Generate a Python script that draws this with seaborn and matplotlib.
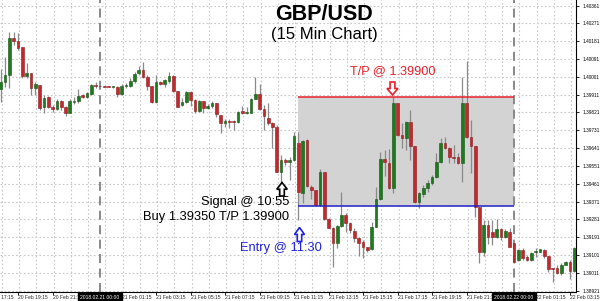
import numpy as np
import pandas as pd
import matplotlib
matplotlib.use("Agg")
import matplotlib.pyplot as plt
import matplotlib.transforms as mtransforms
from matplotlib.patches import Rectangle, Polygon
import seaborn as sns

# ---------------- data (GBP/USD 15 min candles) ----------------
start_time = "2018-02-20 18:15"
opens = [1.39940, 1.39976, 1.40011, 1.40199, 1.40183, 1.40153, 1.40006, 1.40022, 1.39946, 1.39960,
         1.39847, 1.39898, 1.39850, 1.39839, 1.39879, 1.39847, 1.39820, 1.39876, 1.39879, 1.39910,
         1.39901, 1.39915, 1.39960, 1.39956, 1.39953, 1.39952, 1.39950, 1.39951, 1.39915, 1.39956,
         1.39956, 1.39980, 1.40019, 1.40036, 1.39999, 1.39956, 1.39875, 1.39973, 1.39963, 1.39980,
         1.40007, 1.39931, 1.39859, 1.39875, 1.39926, 1.39884, 1.39829, 1.39879, 1.39845, 1.39854,
         1.39870, 1.39808, 1.39766, 1.39779, 1.39778, 1.39774, 1.39829, 1.39820, 1.39820, 1.39891,
         1.39916, 1.39840, 1.39792, 1.39766, 1.39746, 1.39522, 1.39581, 1.39569, 1.39581, 1.39668,
         1.39416, 1.39682, 1.39446, 1.39430, 1.39354, 1.39519, 1.39282, 1.39239, 1.39163, 1.39249,
         1.39303, 1.39261, 1.39224, 1.39189, 1.39167, 1.39140, 1.39130, 1.39244, 1.39384, 1.39585,
         1.39567, 1.39438, 1.39867, 1.39707, 1.39691, 1.39774, 1.39652, 1.39370, 1.39409, 1.39438,
         1.39463, 1.39494, 1.39573, 1.39665, 1.39640, 1.39598, 1.39598, 1.39564, 1.39867, 1.39699,
         1.39652, 1.39345, 1.39116, 1.39253, 1.39217, 1.39191, 1.39231, 1.39191, 1.39219, 1.39160,
         1.39076, 1.39127, 1.39093, 1.39076, 1.39115, 1.39118, 1.39127, 1.39097, 1.39034, 1.39034,
         1.39009, 1.39051, 1.39067, 1.39022]
highs = [1.40039, 1.40103, 1.40229, 1.40229, 1.40221, 1.40153, 1.40069, 1.40022, 1.39976, 1.39960,
         1.39910, 1.39905, 1.39859, 1.39888, 1.39884, 1.39854, 1.39888, 1.39898, 1.39938, 1.39915,
         1.39926, 1.39963, 1.39976, 1.39958, 1.39956, 1.39955, 1.39955, 1.39955, 1.39963, 1.39968,
         1.39994, 1.40024, 1.40057, 1.40077, 1.40011, 1.39956, 1.40011, 1.39980, 1.39990, 1.40024,
         1.40011, 1.39931, 1.39893, 1.39930, 1.39930, 1.39888, 1.39884, 1.39879, 1.39862, 1.39879,
         1.39870, 1.39808, 1.39787, 1.39787, 1.39783, 1.39830, 1.39854, 1.39850, 1.39896, 1.39999,
         1.39965, 1.39859, 1.39867, 1.39774, 1.39758, 1.39606, 1.39591, 1.39595, 1.39724, 1.39724,
         1.39682, 1.39686, 1.39455, 1.39430, 1.39534, 1.39519, 1.39287, 1.39244, 1.39253, 1.39421,
         1.39312, 1.39269, 1.39236, 1.39194, 1.39177, 1.39143, 1.39269, 1.39443, 1.39623, 1.39632,
         1.39635, 1.39900, 1.39870, 1.39766, 1.39779, 1.39834, 1.39652, 1.39421, 1.39455, 1.39480,
         1.39505, 1.39615, 1.39691, 1.39696, 1.39648, 1.39657, 1.39615, 1.40002, 1.40081, 1.39783,
         1.39652, 1.39345, 1.39278, 1.39278, 1.39278, 1.39282, 1.39236, 1.39231, 1.39236, 1.39163,
         1.39130, 1.39135, 1.39102, 1.39116, 1.39135, 1.39132, 1.39130, 1.39097, 1.39034, 1.39051,
         1.39059, 1.39070, 1.39076, 1.39143]
lows = [1.39875, 1.39951, 1.39944, 1.40162, 1.40137, 1.39994, 1.39994, 1.39910, 1.39910, 1.39834,
        1.39817, 1.39842, 1.39825, 1.39834, 1.39834, 1.39805, 1.39817, 1.39864, 1.39870, 1.39893,
        1.39896, 1.39910, 1.39944, 1.39950, 1.39950, 1.39948, 1.39947, 1.39901, 1.39910, 1.39944,
        1.39951, 1.39971, 1.40011, 1.39994, 1.39935, 1.39867, 1.39867, 1.39960, 1.39951, 1.39971,
        1.39926, 1.39848, 1.39854, 1.39867, 1.39854, 1.39820, 1.39823, 1.39820, 1.39837, 1.39842,
        1.39797, 1.39716, 1.39746, 1.39741, 1.39733, 1.39766, 1.39813, 1.39813, 1.39817, 1.39889,
        1.39834, 1.39733, 1.39758, 1.39640, 1.39520, 1.39463, 1.39556, 1.39480, 1.39578, 1.39278,
        1.39362, 1.39446, 1.39383, 1.39349, 1.39349, 1.39278, 1.39236, 1.39042, 1.39135, 1.39244,
        1.39219, 1.39211, 1.39168, 1.39097, 1.39085, 1.39118, 1.39127, 1.39240, 1.39379, 1.39500,
        1.39433, 1.39413, 1.39702, 1.39640, 1.39632, 1.39581, 1.39365, 1.39337, 1.39396, 1.39421,
        1.39455, 1.39489, 1.39564, 1.39635, 1.39564, 1.39564, 1.39561, 1.39471, 1.39692, 1.39514,
        1.39295, 1.39059, 1.39097, 1.39157, 1.39152, 1.39186, 1.39177, 1.39186, 1.39140, 1.39059,
        1.39073, 1.39076, 1.39071, 1.39071, 1.39093, 1.39116, 1.39085, 1.39017, 1.38966, 1.39006,
        1.39001, 1.39048, 1.38978, 1.39017]
closes = [1.39976, 1.40011, 1.40196, 1.40183, 1.40148, 1.40006, 1.40022, 1.39944, 1.39963, 1.39845,
          1.39896, 1.39850, 1.39840, 1.39879, 1.39847, 1.39820, 1.39879, 1.39879, 1.39905, 1.39898,
          1.39921, 1.39960, 1.39956, 1.39953, 1.39952, 1.39950, 1.39951, 1.39913, 1.39956, 1.39958,
          1.39980, 1.40016, 1.40036, 1.39999, 1.39956, 1.39875, 1.39973, 1.39965, 1.39985, 1.40007,
          1.39931, 1.39850, 1.39875, 1.39926, 1.39884, 1.39829, 1.39879, 1.39845, 1.39854, 1.39870,
          1.39813, 1.39766, 1.39779, 1.39771, 1.39771, 1.39825, 1.39820, 1.39825, 1.39891, 1.39916,
          1.39840, 1.39803, 1.39766, 1.39746, 1.39522, 1.39581, 1.39569, 1.39581, 1.39702, 1.39421,
          1.39677, 1.39450, 1.39430, 1.39354, 1.39519, 1.39282, 1.39239, 1.39160, 1.39249, 1.39303,
          1.39261, 1.39228, 1.39189, 1.39163, 1.39140, 1.39127, 1.39244, 1.39384, 1.39586, 1.39573,
          1.39438, 1.39867, 1.39707, 1.39691, 1.39774, 1.39653, 1.39370, 1.39413, 1.39438, 1.39463,
          1.39494, 1.39573, 1.39665, 1.39640, 1.39595, 1.39590, 1.39564, 1.39867, 1.39699, 1.39652,
          1.39345, 1.39118, 1.39253, 1.39191, 1.39192, 1.39231, 1.39191, 1.39224, 1.39143, 1.39067,
          1.39127, 1.39085, 1.39076, 1.39110, 1.39123, 1.39130, 1.39097, 1.39029, 1.39029, 1.39009,
          1.39051, 1.39067, 1.39022, 1.39135]

price_ticks = [1.38921, 1.39011, 1.39101, 1.39191, 1.39281, 1.39371, 1.39461, 1.39551, 1.39641,
               1.39731, 1.39821, 1.39911, 1.40001, 1.40091, 1.40181, 1.40271, 1.40361]
time_label_times = ["2018-02-20 17:15", "2018-02-20 19:15", "2018-02-20 21:15", "2018-02-20 23:15",
                    "2018-02-21 01:15", "2018-02-21 03:15", "2018-02-21 05:15", "2018-02-21 07:15",
                    "2018-02-21 09:15", "2018-02-21 11:15", "2018-02-21 13:15", "2018-02-21 15:15",
                    "2018-02-21 17:15", "2018-02-21 19:15", "2018-02-21 21:15", "2018-02-21 23:15",
                    "2018-02-22 01:15", "2018-02-22 03:15"]
time_labels = ["20 Feb 17:15", "20 Feb 19:15", "20 Feb 21:15", "20 Feb 23:15",
               "21 Feb 01:15", "21 Feb 03:15", "21 Feb 05:15", "21 Feb 07:15",
               "21 Feb 09:15", "21 Feb 11:15", "21 Feb 13:15", "21 Feb 15:15",
               "21 Feb 17:15", "21 Feb 19:15", "21 Feb 21:15", "21 Feb 23:15",
               "22 Feb 01:15", "22 Feb 03:15"]
day_times = ["2018-02-21 00:00", "2018-02-22 00:00"]
day_labels = ["2018.02.21 00:00", "2018.02.22 00:00"]
entry_time = "2018-02-21 11:30"
entry_price = 1.39350
tp_price = 1.39900

# ---------------- build frame ----------------
times = pd.date_range(start_time, periods=len(opens), freq="15min")
df = pd.DataFrame({"time": times, "open": opens, "high": highs, "low": lows, "close": closes})
df["pos"] = np.arange(len(df))
t0 = times[0]
def tpos(t):
    return (pd.Timestamp(t) - t0) / pd.Timedelta("15min")

sns.set_theme(style="white")
plt.rcParams["font.family"] = ["Liberation Sans", "DejaVu Sans"]
SMALL = ["Liberation Sans Narrow", "Liberation Sans", "DejaVu Sans"]

fig = plt.figure(figsize=(6.0, 3.01), dpi=100)
W, H = 600, 301
AXW, AXH = 576, 292
ax = fig.add_axes([0, 9 / H, AXW / W, AXH / H])
ax.set_facecolor("white")

xmin, xmax = -0.19, len(df) - 0.62
ymin, ymax = 1.38914, 1.40389

grid_kw = dict(color="#c8c8c8", lw=0.8, linestyle=(0, (1.5, 2)), zorder=0)
for p in price_ticks:
    ax.axhline(p, **grid_kw)
for k in range(0, len(df) + 1, 4):
    ax.axvline(k + 0.25, **grid_kw)

# trade box
e = tpos(entry_time)
d2 = tpos(day_times[1])
ax.add_patch(Rectangle((e, entry_price), d2 - e, tp_price - entry_price,
                       facecolor="#d3d3d3", edgecolor="none", zorder=1))
ax.hlines(tp_price, e, d2, color="#e8202a", lw=1.1, zorder=4)
ax.hlines(entry_price, e, d2, color="#2020c8", lw=1.1, zorder=4)

# day separators
for dt in day_times:
    ax.axvline(tpos(dt), color="#808080", lw=1.3, linestyle=(0, (5, 3)), zorder=2)

# candles
up = df["close"] >= df["open"]
ax.vlines(df["pos"], df["low"], df["high"], color="#8a8a8a", lw=0.9, zorder=3)
body_bottom = np.minimum(df["open"], df["close"])
body_h = np.maximum(np.abs(df["close"] - df["open"]), 0.000025)
colors = np.where(up, "#1d7a1d", "#c3282c")
edges = np.where(up, "#145414", "#8e1a1d")
ax.bar(df["pos"], body_h, bottom=body_bottom, width=0.62, color=colors,
       edgecolor=edges, linewidth=0.4, zorder=3)

# right price axis
ax.yaxis.tick_right()
ax.set_yticks(price_ticks)
ax.set_yticklabels([f"{p:.5f}" for p in price_ticks], fontdict=dict(family=SMALL, size=3.4))
ax.tick_params(axis="y", which="both", right=True, length=2, width=0.6, pad=2.5, colors="black")

# bottom time labels
vis_ticks = [tpos(t) for t in time_label_times if xmin <= tpos(t) <= xmax]
ax.set_xticks(vis_ticks)
ax.set_xticklabels([])
ax.tick_params(axis="x", bottom=True, length=2, width=0.6, colors="black")
ax.set_xlim(xmin, xmax)
ax.set_ylim(ymin, ymax)

trans = mtransforms.blended_transform_factory(ax.transData, ax.transAxes)
for t, lab in zip(time_label_times, time_labels):
    ax.text(tpos(t), -0.0175, lab, transform=trans, ha="left", va="center",
            fontsize=3.6, family=SMALL, clip_on=False, zorder=5)
for t, lab in zip(day_times, day_labels):
    ax.text(tpos(t), -0.0175, lab, transform=trans, ha="center", va="center",
            fontsize=3.6, family=SMALL, color="white",
            bbox=dict(boxstyle="square,pad=0.4", facecolor="black", edgecolor="black"),
            clip_on=False, zorder=6)

for s in ["left", "top"]:
    ax.spines[s].set_visible(False)
for s in ["right", "bottom"]:
    ax.spines[s].set_color("black")
    ax.spines[s].set_linewidth(0.8)

# annotations (positions given in pixels of the chart area)
def af(px, py):
    return px / AXW, 1 - py / AXH

def block_arrow(cx, top, bottom, width, color, down=False):
    # hollow block arrow, head occupies half of height
    h = bottom - top
    hw, sw = width / 2, width * 0.22
    if not down:
        pts = [(cx, top), (cx + hw, top + h * 0.5), (cx + sw, top + h * 0.5), (cx + sw, bottom),
               (cx - sw, bottom), (cx - sw, top + h * 0.5), (cx - hw, top + h * 0.5)]
    else:
        pts = [(cx, bottom), (cx + hw, top + h * 0.5), (cx + sw, top + h * 0.5), (cx + sw, top),
               (cx - sw, top), (cx - sw, top + h * 0.5), (cx - hw, top + h * 0.5)]
    ax.add_patch(Polygon([af(x, y) for x, y in pts], closed=True, transform=ax.transAxes,
                         facecolor="white", edgecolor=color, lw=1.2, zorder=7, clip_on=False))

ax.text(*af(324, 15), "GBP/USD", transform=ax.transAxes, ha="center", va="center",
        fontsize=15.5, fontweight="bold", color="black", zorder=7)
ax.text(*af(324, 34.5), "(15 Min Chart)", transform=ax.transAxes, ha="center", va="center",
        fontsize=12, color="black", zorder=7)
ax.text(*af(392.5, 71), "T/P @ 1.39900", transform=ax.transAxes, ha="center", va="center",
        fontsize=9.2, color="#e8202a", zorder=7)
block_arrow(392.5, 82, 95, 11, "#e8202a", down=True)
ax.text(*af(289, 202.5), "Signal @ 10:55", transform=ax.transAxes, ha="right", va="center",
        fontsize=9.3, color="black", zorder=7)
ax.text(*af(289, 217), "Buy 1.39350 T/P 1.39900", transform=ax.transAxes, ha="right", va="center",
        fontsize=9.3, color="black", zorder=7)
block_arrow(282, 182.5, 196, 10.5, "black")
block_arrow(299.5, 227.5, 241.5, 10, "#2020e0")
ax.text(*af(280.5, 248.5), "Entry @ 11:30", transform=ax.transAxes, ha="center", va="center",
        fontsize=9.3, color="#2020e0", zorder=7)

fig.savefig("out.png", dpi=100)
